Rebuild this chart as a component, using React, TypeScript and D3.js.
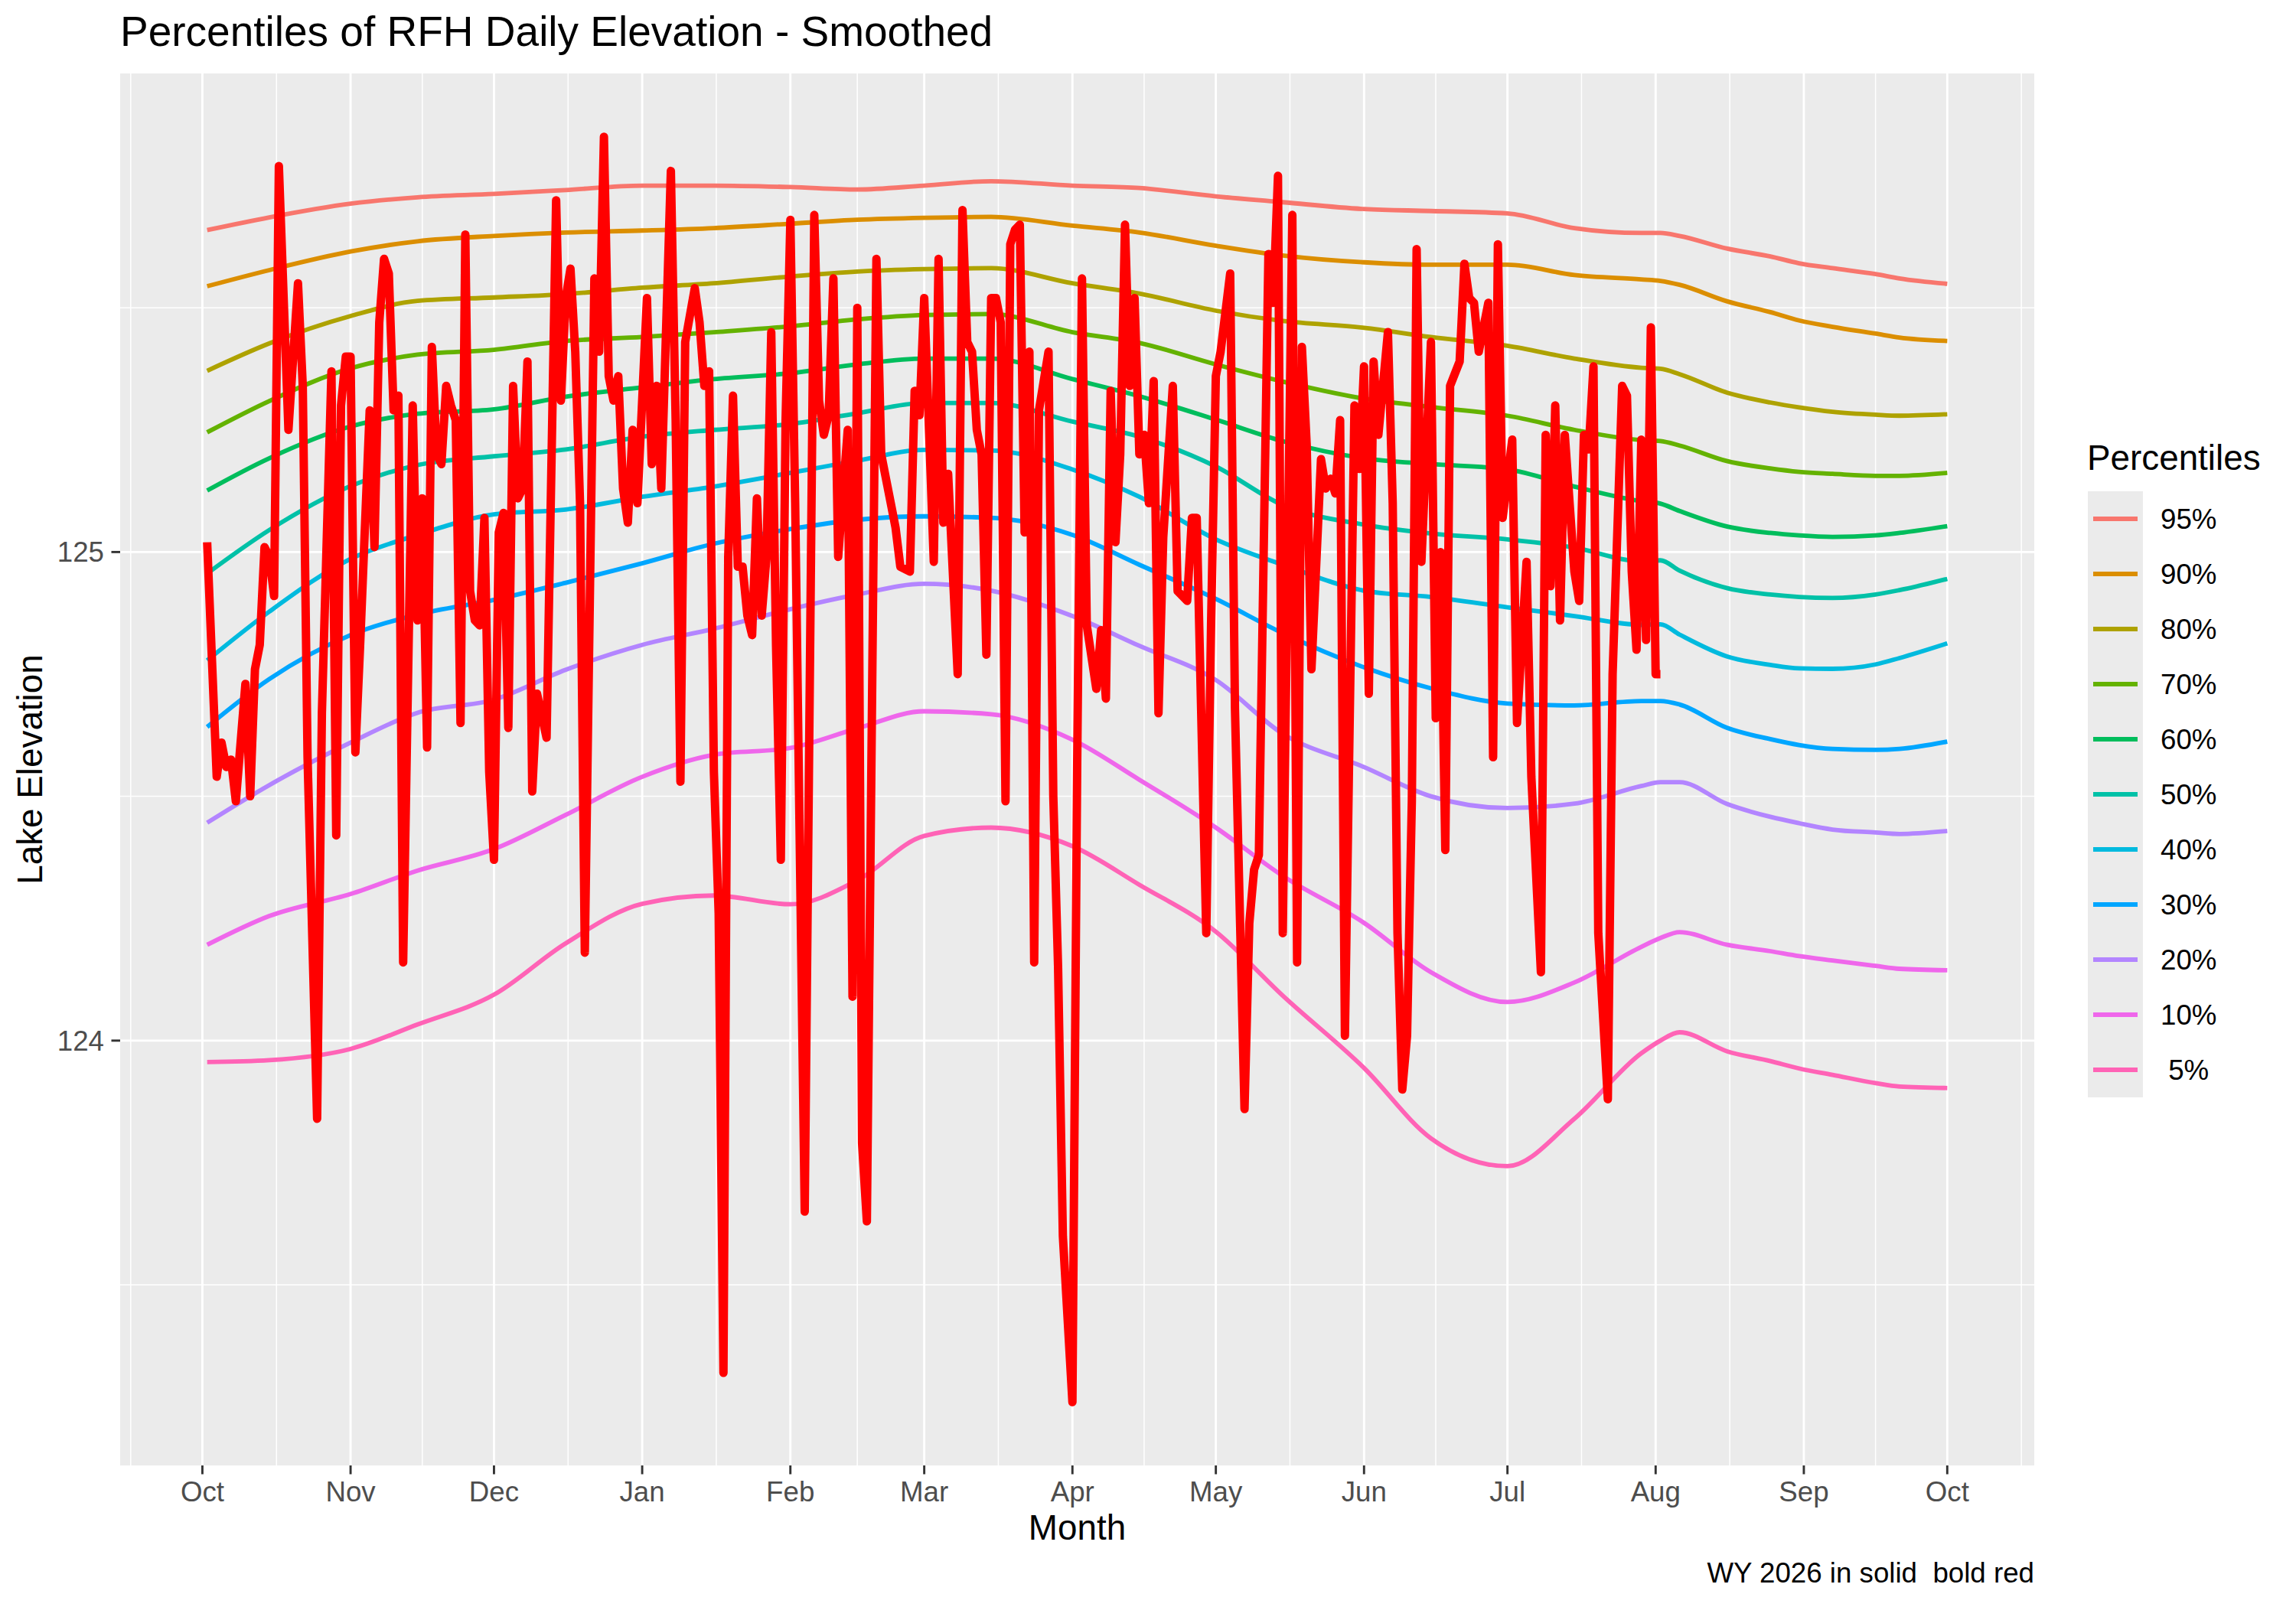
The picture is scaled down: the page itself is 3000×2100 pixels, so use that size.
import { useEffect, useRef } from 'react';
import * as d3 from 'd3';

// day offsets counted from 1 Oct 2025 (start of WY 2026)
const pctDays = [1, 14, 31, 45, 61, 76, 92, 107, 123, 137, 151, 165, 182, 196, 212, 226, 243, 257, 273, 287, 301, 305, 309, 319, 328, 334, 341, 350, 355, 365];

const p95 = [125.659, 125.685, 125.713, 125.726, 125.733, 125.741, 125.750, 125.750, 125.747, 125.742, 125.750, 125.759, 125.750, 125.745, 125.728, 125.716, 125.702, 125.698, 125.693, 125.663, 125.653, 125.653, 125.647, 125.621, 125.605, 125.591, 125.581, 125.569, 125.560, 125.549];
const p90 = [125.544, 125.577, 125.615, 125.636, 125.647, 125.654, 125.658, 125.663, 125.672, 125.680, 125.684, 125.686, 125.668, 125.654, 125.627, 125.607, 125.593, 125.588, 125.588, 125.567, 125.558, 125.555, 125.547, 125.513, 125.491, 125.474, 125.461, 125.447, 125.439, 125.432];
const p80 = [125.371, 125.427, 125.483, 125.514, 125.521, 125.528, 125.541, 125.550, 125.564, 125.574, 125.579, 125.581, 125.550, 125.529, 125.494, 125.473, 125.459, 125.440, 125.422, 125.396, 125.377, 125.375, 125.364, 125.326, 125.306, 125.296, 125.287, 125.281, 125.279, 125.282];
const p70 = [125.245, 125.309, 125.376, 125.404, 125.414, 125.432, 125.440, 125.450, 125.462, 125.476, 125.485, 125.487, 125.450, 125.428, 125.384, 125.349, 125.314, 125.297, 125.279, 125.250, 125.229, 125.227, 125.218, 125.186, 125.171, 125.164, 125.160, 125.156, 125.156, 125.162];
const p60 = [125.126, 125.192, 125.257, 125.283, 125.292, 125.318, 125.337, 125.354, 125.366, 125.384, 125.396, 125.396, 125.354, 125.319, 125.271, 125.227, 125.192, 125.180, 125.169, 125.134, 125.104, 125.099, 125.084, 125.052, 125.039, 125.034, 125.031, 125.034, 125.039, 125.053];
const p50 = [124.956, 125.045, 125.135, 125.178, 125.196, 125.210, 125.236, 125.250, 125.262, 125.284, 125.305, 125.305, 125.267, 125.236, 125.175, 125.096, 125.056, 125.038, 125.026, 125.009, 124.981, 124.983, 124.962, 124.926, 124.913, 124.908, 124.906, 124.913, 124.922, 124.945];
const p40 = [124.778, 124.878, 124.986, 125.035, 125.077, 125.087, 125.113, 125.134, 125.162, 125.187, 125.209, 125.208, 125.169, 125.113, 125.026, 124.974, 124.921, 124.908, 124.887, 124.869, 124.851, 124.852, 124.831, 124.786, 124.769, 124.762, 124.761, 124.770, 124.783, 124.813];
const p30 = [124.642, 124.740, 124.830, 124.872, 124.902, 124.937, 124.977, 125.017, 125.047, 125.066, 125.073, 125.070, 125.035, 124.974, 124.904, 124.834, 124.764, 124.721, 124.690, 124.686, 124.695, 124.695, 124.688, 124.640, 124.617, 124.605, 124.597, 124.595, 124.597, 124.612];
const p20 = [124.446, 124.523, 124.610, 124.671, 124.698, 124.759, 124.810, 124.843, 124.883, 124.913, 124.935, 124.921, 124.869, 124.808, 124.738, 124.628, 124.560, 124.500, 124.476, 124.485, 124.521, 124.529, 124.529, 124.484, 124.458, 124.445, 124.432, 124.426, 124.423, 124.429];
const p10 = [124.196, 124.255, 124.300, 124.348, 124.392, 124.462, 124.540, 124.585, 124.599, 124.639, 124.674, 124.668, 124.616, 124.534, 124.436, 124.337, 124.241, 124.140, 124.079, 124.119, 124.192, 124.210, 124.222, 124.196, 124.183, 124.173, 124.164, 124.153, 124.147, 124.144];
const p05 = [123.956, 123.960, 123.983, 124.033, 124.094, 124.199, 124.280, 124.297, 124.279, 124.328, 124.419, 124.436, 124.398, 124.319, 124.223, 124.092, 123.944, 123.800, 123.743, 123.840, 123.974, 124.000, 124.017, 123.978, 123.958, 123.943, 123.930, 123.913, 123.906, 123.903];

const pctLabels = ['95%', '90%', '80%', '70%', '60%', '50%', '40%', '30%', '20%', '10%', ' 5%'];
const pctSeries = [p95, p90, p80, p70, p60, p50, p40, p30, p20, p10, p05];

// WY 2026 daily elevation
const redDays = [1, 3, 4, 5, 6, 7, 9, 10, 11, 12, 13, 14, 15, 16, 18, 20, 21, 22, 24, 25, 27, 28, 29, 30, 31, 32, 33, 35, 36, 37, 38, 39, 40, 41, 42, 44, 45, 46, 47, 48, 49, 50, 51, 52, 53, 54, 55, 56, 57, 58, 59, 60, 61, 62, 63, 64, 65, 66, 67, 68, 69, 70, 72, 74, 75, 76, 77, 78, 79, 80, 82, 83, 84, 85, 86, 87, 88, 89, 90, 91, 93, 94, 95, 96, 98, 99, 100, 101, 103, 104, 105, 106, 107, 108, 109, 110, 111, 112, 113, 114, 115, 116, 117, 118, 119, 120, 121, 122, 123, 124, 126, 128, 129, 130, 131, 132, 133, 135, 136, 137, 138, 139, 141, 142, 144, 145, 146, 148, 149, 150, 151, 153, 154, 155, 156, 158, 159, 160, 161, 162, 163, 164, 165, 166, 167, 168, 169, 170, 171, 172, 173, 174, 175, 177, 178, 179, 180, 182, 183, 184, 185, 187, 188, 189, 190, 191, 192, 193, 194, 195, 196, 197, 198, 199, 200, 201, 203, 204, 206, 207, 208, 210, 211, 212, 213, 215, 216, 218, 219, 220, 221, 223, 224, 225, 226, 228, 229, 230, 231, 232, 234, 235, 236, 237, 238, 239, 241, 242, 243, 244, 245, 246, 248, 249, 250, 251, 252, 253, 254, 255, 257, 258, 259, 260, 261, 263, 264, 265, 266, 267, 269, 270, 271, 272, 274, 275, 277, 278, 280, 281, 282, 283, 284, 285, 287, 288, 289, 290, 291, 292, 294, 295, 297, 298, 299, 300, 301, 302, 303, 304, 305];
const redValues = [125.02, 124.54, 124.61, 124.56, 124.575, 124.49, 124.73, 124.50, 124.76, 124.81, 125.01, 124.99, 124.91, 125.79, 125.25, 125.55, 125.34, 124.58, 123.84, 124.67, 125.37, 124.42, 125.30, 125.40, 125.40, 124.59, 124.81, 125.29, 125.01, 125.47, 125.60, 125.57, 125.29, 125.32, 124.16, 125.30, 124.86, 125.11, 124.60, 125.42, 125.20, 125.18, 125.34, 125.30, 125.27, 124.65, 125.65, 124.92, 124.86, 124.85, 125.07, 124.55, 124.37, 125.04, 125.08, 124.64, 125.34, 125.11, 125.13, 125.39, 124.51, 124.71, 124.62, 125.72, 125.31, 125.52, 125.58, 125.41, 125.10, 124.18, 125.56, 125.41, 125.85, 125.36, 125.31, 125.36, 125.13, 125.06, 125.25, 125.10, 125.52, 125.18, 125.34, 125.13, 125.78, 125.27, 124.53, 125.43, 125.54, 125.47, 125.34, 125.37, 124.55, 124.26, 123.32, 124.99, 125.32, 124.97, 124.97, 124.87, 124.83, 125.11, 124.87, 124.99, 125.45, 124.81, 124.37, 125.27, 125.68, 125.10, 123.65, 125.69, 125.31, 125.24, 125.28, 125.56, 124.99, 125.25, 124.09, 125.50, 123.79, 123.63, 125.60, 125.20, 125.10, 125.05, 124.97, 124.96, 125.33, 125.28, 125.52, 124.98, 125.60, 125.06, 125.16, 124.75, 125.70, 125.43, 125.41, 125.25, 125.20, 124.79, 125.52, 125.52, 125.47, 124.49, 125.63, 125.66, 125.67, 125.04, 125.41, 124.16, 125.29, 125.41, 124.50, 124.15, 123.60, 123.26, 124.57, 125.56, 124.85, 124.72, 124.84, 124.70, 125.33, 125.02, 125.20, 125.67, 125.34, 125.52, 125.20, 125.24, 125.10, 125.35, 124.67, 125.03, 125.34, 124.92, 124.90, 125.07, 125.07, 124.22, 124.85, 125.36, 125.41, 125.57, 124.68, 123.86, 124.24, 124.35, 124.38, 125.61, 125.51, 125.77, 124.22, 125.69, 124.16, 125.42, 125.22, 124.76, 125.19, 125.13, 125.15, 125.12, 125.27, 124.01, 125.30, 125.17, 125.38, 124.71, 125.39, 125.24, 125.45, 125.10, 124.22, 123.90, 124.01, 124.49, 125.62, 124.98, 125.43, 124.66, 125.00, 124.39, 125.34, 125.39, 125.59, 125.52, 125.51, 125.41, 125.51, 124.58, 125.63, 125.07, 125.23, 124.65, 124.98, 124.54, 124.14, 125.24, 124.93, 125.30, 124.86, 125.24, 124.96, 124.90, 125.24, 125.21, 125.38, 124.22, 123.88, 124.75, 125.34, 125.32, 124.96, 124.80, 125.23, 124.82, 125.46, 124.75, 124.75];

const yMajor = [124, 125];
const yMinor = [123.5, 124.5, 125.5];

const pctColors = ['#F8766D', '#DB8E00', '#AEA200', '#64B200', '#00BD5C', '#00C1A7', '#00BADE', '#00A6FF', '#B385FF', '#EF67EB', '#FF63B6'];

const W = 3000;
const H = 2100;
const FONT = '"Liberation Sans", Arial, Helvetica, sans-serif';
const BASE = Date.UTC(2025, 9, 1);
const toDate = (d: number) => new Date(BASE + d * 864e5);

function PercentileChart() {
  const svgRef = useRef<SVGSVGElement>(null);

  useEffect(() => {
    const svg = d3.select(svgRef.current);
    svg.selectAll('*').remove();

    const left = 157, right = 2658, top = 96, bottom = 1915;

    // x: dates with ggplot's 5% expansion
    const allDays = [...pctDays, ...redDays];
    const [d0, d1] = d3.extent(allDays) as [number, number];
    const dPad = (d1 - d0) * 0.05;
    const x = d3.scaleUtc().domain([toDate(d0 - dPad), toDate(d1 + dPad)]).range([left, right]);

    const allVals = [...redValues, ...pctSeries.flat()];
    const [v0, v1] = d3.extent(allVals) as [number, number];
    const vPad = (v1 - v0) * 0.05;
    const y = d3.scaleLinear().domain([v0 - vPad, v1 + vPad]).range([bottom, top]);

    svg.append('rect').attr('width', W).attr('height', H).attr('fill', '#FFFFFF');
    svg.append('rect').attr('x', left).attr('y', top).attr('width', right - left).attr('height', bottom - top).attr('fill', '#EBEBEB');

    // grid
    const months = d3.utcMonth.range(new Date(BASE), d3.utcDay.offset(toDate(d1 + dPad), 1));
    const extMonths = [d3.utcMonth.offset(months[0], -1), ...months, d3.utcMonth.offset(months[months.length - 1], 1)];
    const minorX: Date[] = [];
    for (let i = 0; i < extMonths.length - 1; i++) {
      minorX.push(new Date((+extMonths[i] + +extMonths[i + 1]) / 2));
    }
    const g = svg.append('g');
    minorX.filter((d) => x(d) >= left && x(d) <= right).forEach((d) => {
      g.append('line').attr('x1', x(d)).attr('x2', x(d)).attr('y1', top).attr('y2', bottom)
        .attr('stroke', '#FFFFFF').attr('stroke-width', 1.5);
    });
    yMinor.forEach((v) => {
      g.append('line').attr('x1', left).attr('x2', right).attr('y1', y(v)).attr('y2', y(v))
        .attr('stroke', '#FFFFFF').attr('stroke-width', 1.5);
    });
    months.forEach((d) => {
      g.append('line').attr('x1', x(d)).attr('x2', x(d)).attr('y1', top).attr('y2', bottom)
        .attr('stroke', '#FFFFFF').attr('stroke-width', 2.9);
    });
    yMajor.forEach((v) => {
      g.append('line').attr('x1', left).attr('x2', right).attr('y1', y(v)).attr('y2', y(v))
        .attr('stroke', '#FFFFFF').attr('stroke-width', 2.9);
    });

    // percentile lines
    const line = d3.line<[number, number]>()
      .x((p) => x(toDate(p[0])))
      .y((p) => y(p[1]))
      .curve(d3.curveMonotoneX);
    pctSeries.forEach((vals, i) => {
      const pts = pctDays.map((d, j) => [d, vals[j]] as [number, number]);
      g.append('path').attr('d', line(pts)).attr('fill', 'none')
        .attr('stroke', pctColors[i]).attr('stroke-width', 5.8).attr('stroke-linejoin', 'round');
    });

    // WY 2026 in red
    const redLine = d3.line<[number, number]>()
      .x((p) => x(toDate(p[0])))
      .y((p) => y(p[1]));
    const redPts = redDays.map((d, j) => [d, redValues[j]] as [number, number]);
    g.append('path').attr('d', redLine(redPts)).attr('fill', 'none')
      .attr('stroke', '#FF0000').attr('stroke-width', 11).attr('stroke-linejoin', 'round');

    // axes
    yMajor.forEach((v) => {
      svg.append('line').attr('x1', left - 11.5).attr('x2', left).attr('y1', y(v)).attr('y2', y(v))
        .attr('stroke', '#333333').attr('stroke-width', 2.9);
      svg.append('text').attr('x', left - 21).attr('y', y(v)).attr('dy', '0.35em')
        .attr('text-anchor', 'end').attr('fill', '#4D4D4D').attr('font-size', 36.7).attr('font-family', FONT)
        .text(d3.format('d')(v));
    });
    months.forEach((d) => {
      svg.append('line').attr('x1', x(d)).attr('x2', x(d)).attr('y1', bottom).attr('y2', bottom + 11.5)
        .attr('stroke', '#333333').attr('stroke-width', 2.9);
      svg.append('text').attr('x', x(d)).attr('y', 1962)
        .attr('text-anchor', 'middle').attr('fill', '#4D4D4D').attr('font-size', 36.7).attr('font-family', FONT)
        .text(d3.utcFormat('%b')(d));
    });

    // titles
    svg.append('text').attr('x', left).attr('y', 60).attr('fill', '#000000')
      .attr('font-size', 55).attr('font-family', FONT)
      .text('Percentiles of RFH Daily Elevation - Smoothed');
    svg.append('text').attr('transform', `translate(55,${(top + bottom) / 2}) rotate(-90)`)
      .attr('text-anchor', 'middle').attr('fill', '#000000').attr('font-size', 45.8).attr('font-family', FONT)
      .text('Lake Elevation');
    svg.append('text').attr('x', (left + right) / 2).attr('y', 2012)
      .attr('text-anchor', 'middle').attr('fill', '#000000').attr('font-size', 45.8).attr('font-family', FONT)
      .text('Month');
    svg.append('text').attr('x', right).attr('y', 2068)
      .attr('text-anchor', 'end').attr('fill', '#000000').attr('font-size', 36.7).attr('font-family', FONT)
      .style('white-space', 'pre')
      .text('WY 2026 in solid  bold red');

    // legend
    const lg = svg.append('g');
    lg.append('text').attr('x', 2727).attr('y', 614).attr('fill', '#000000')
      .attr('font-size', 45.8).attr('font-family', FONT).text('Percentiles');
    const keyTop = 642, keyH = 72;
    lg.append('rect').attr('x', 2728).attr('y', keyTop).attr('width', 72).attr('height', keyH * pctLabels.length)
      .attr('fill', '#EBEBEB');
    pctLabels.forEach((lab, i) => {
      const cy = keyTop + keyH * i + keyH / 2;
      lg.append('line').attr('x1', 2735).attr('x2', 2793).attr('y1', cy).attr('y2', cy)
        .attr('stroke', pctColors[i]).attr('stroke-width', 5.8);
      lg.append('text').attr('x', 2823).attr('y', cy).attr('dy', '0.35em')
        .attr('fill', '#000000').attr('font-size', 36.7).attr('font-family', FONT)
        .style('white-space', 'pre').text(lab);
    });
  }, []);

  return <svg ref={svgRef} width={W} height={H} viewBox={`0 0 ${W} ${H}`} style={{ display: 'block' }} />;
}

export default function App() {
  return (
    <div>
      <style>{'body{margin:0;}'}</style>
      <PercentileChart />
    </div>
  );
}
